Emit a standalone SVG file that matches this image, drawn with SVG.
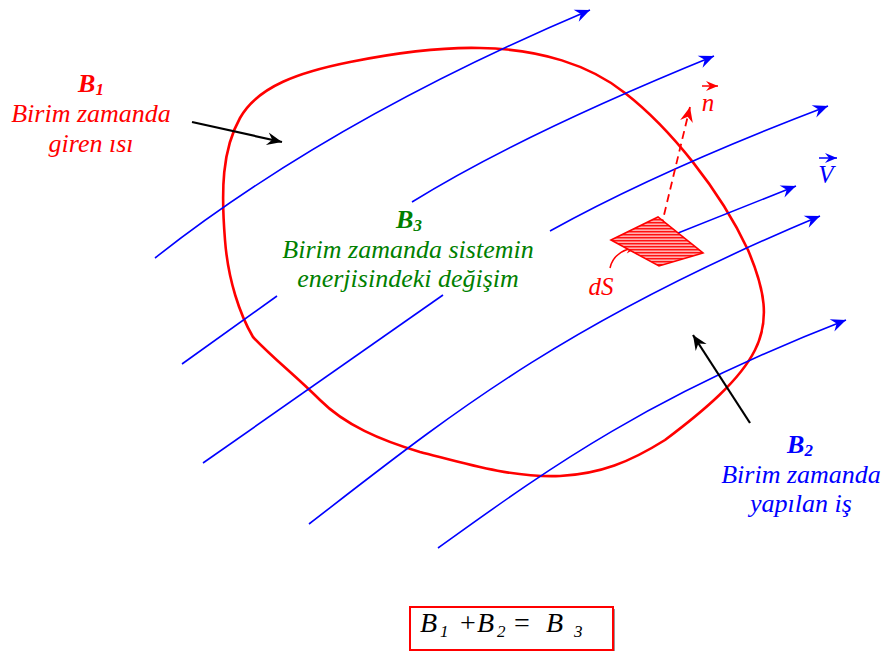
<svg xmlns="http://www.w3.org/2000/svg" width="885" height="651" viewBox="0 0 885 651">
<style>
.lbl{font-family:"Liberation Serif","Times New Roman",serif;font-style:italic;text-anchor:middle}
.bold{font-weight:bold}
.eq{font-family:"Liberation Serif","Times New Roman",serif;fill:#000}
.flow{fill:none;stroke:#0000ff;stroke-width:1.6}
.black{fill:none;stroke:#000;stroke-width:2.2}
</style>
<defs>
<marker id="ab" viewBox="-16 -7 17 14" refX="0" refY="0" markerWidth="17" markerHeight="14" orient="auto" markerUnits="userSpaceOnUse"><path d="M0,0 L-15,-6.5 L-10,0 L-15,6.5 Z" fill="#0000ff"/></marker>
<marker id="ar" viewBox="-16 -7 17 14" refX="0" refY="0" markerWidth="17" markerHeight="14" orient="auto" markerUnits="userSpaceOnUse"><path d="M0,0 L-15,-6.5 L-10,0 L-15,6.5 Z" fill="#ff0000"/></marker>
<marker id="ars" viewBox="-13 -6 14 12" refX="0" refY="0" markerWidth="14" markerHeight="12" orient="auto" markerUnits="userSpaceOnUse"><path d="M0,0 L-12,-5 L-8,0 L-12,5 Z" fill="#ff0000"/></marker>
<marker id="abs" viewBox="-13 -6 14 12" refX="0" refY="0" markerWidth="14" markerHeight="12" orient="auto" markerUnits="userSpaceOnUse"><path d="M0,0 L-12,-5 L-8,0 L-12,5 Z" fill="#0000ff"/></marker>
<marker id="abk" viewBox="-16 -7 17 14" refX="0" refY="0" markerWidth="17" markerHeight="14" orient="auto" markerUnits="userSpaceOnUse"><path d="M0,0 L-15,-6.5 L-10,0 L-15,6.5 Z" fill="#000"/></marker>
<pattern id="hatch" width="6" height="3" patternUnits="userSpaceOnUse"><rect width="6" height="3" fill="#ffb0b0"/><line x1="0" y1="0.75" x2="6" y2="0.75" stroke="#ff0000" stroke-width="1.3"/></pattern>
</defs>

<g id="system">
<path d="M253,337 C240,315 228,280 225,240 C221,190 222,150 240,118 C258,86 300,72 350,62 C400,52 440,47 480,48 C540,49 590,65 625,93 C670,128 720,190 748,250 C765,290 770,320 755,350 C740,380 705,410 665,440 C630,462 600,474 560,476 C510,478 460,462 420,452 C380,440 345,425 320,400 C295,375 275,360 253,337 Z" fill="none" stroke="#ff0000" stroke-width="2.6"/>
</g>

<g id="connectors">
<path class="flow" d="M155,258 Q330,120 590,10" marker-end="url(#ab)"/>
<path class="flow" d="M182,364 L277,296"/>
<path class="flow" d="M412,202 Q520,135 714,56" marker-end="url(#ab)"/>
<path class="flow" d="M203,463 L443,295"/>
<path class="flow" d="M550,231 Q660,170 828,106" marker-end="url(#ab)"/>
<path class="flow" d="M309,524 C450,415 560,325 820,216" marker-end="url(#ab)"/>
<path class="flow" d="M438,548 C540,475 640,400 846,320" marker-end="url(#ab)"/>
<path class="flow" d="M658,241 L796,186" marker-end="url(#ab)"/>
<path d="M658,240 L690,107" fill="none" stroke="#ff0000" stroke-width="1.8" stroke-dasharray="8,5" marker-end="url(#ar)"/>
<path class="black" d="M192,122 L282,142" marker-end="url(#abk)"/>
<path class="black" d="M750,423 L693,335" marker-end="url(#abk)"/>
<path d="M610,268 Q614,250 638,247" fill="none" stroke="#ff0000" stroke-width="1.5" marker-end="url(#ars)"/>
</g>

<g id="dS">
<path d="M611,240 L658,217 L703,253 L659,266 Z" fill="url(#hatch)" stroke="#ff0000" stroke-width="1.6"/>
<text class="lbl" x="601" y="295" fill="#ff0000" font-size="25">dS</text>
</g>

<g id="n">
<path d="M702,86 L718,86" stroke="#ff0000" stroke-width="1.5" marker-end="url(#ars)"/>
<text class="lbl" x="708" y="111" fill="#ff0000" font-size="25">n</text>
</g>

<g id="V">
<path d="M819,158 L837,158" stroke="#0000ff" stroke-width="1.5" marker-end="url(#abs)"/>
<text class="lbl" x="826" y="183" fill="#0000ff" font-size="25">V</text>
</g>

<g id="B1" fill="#ff0000" font-size="26">
<text class="lbl bold" x="91" y="92">B<tspan font-size="17" dy="3">1</tspan></text>
<text class="lbl" x="91" y="122">Birim zamanda</text>
<text class="lbl" x="91" y="152">giren ısı</text>
</g>

<g id="B3" fill="#008000" font-size="26">
<text class="lbl bold" x="409" y="228">B<tspan font-size="17" dy="3">3</tspan></text>
<text class="lbl" x="408" y="258">Birim zamanda sistemin</text>
<text class="lbl" x="408" y="287">enerjisindeki değişim</text>
</g>

<g id="B2" fill="#0000ff" font-size="26">
<text class="lbl bold" x="800" y="453">B<tspan font-size="17" dy="3">2</tspan></text>
<text class="lbl" x="801" y="483">Birim zamanda</text>
<text class="lbl" x="801" y="512">yapılan iş</text>
</g>

<g id="equation" font-size="28">
<rect x="412" y="609" width="203" height="43" fill="#999"/>
<rect x="410" y="607" width="203" height="43" fill="#fff" stroke="#ff0000" stroke-width="2"/>
<text class="eq" font-style="italic" x="420" y="632">B</text>
<text class="eq" font-style="italic" font-size="17" x="440" y="637">1</text>
<text class="eq" x="460" y="632">+</text>
<text class="eq" font-style="italic" x="477" y="632">B</text>
<text class="eq" font-style="italic" font-size="17" x="497" y="637">2</text>
<text class="eq" x="514" y="632">=</text>
<text class="eq" font-style="italic" x="546" y="632">B</text>
<text class="eq" font-style="italic" font-size="17" x="574" y="637">3</text>
</g>
</svg>
